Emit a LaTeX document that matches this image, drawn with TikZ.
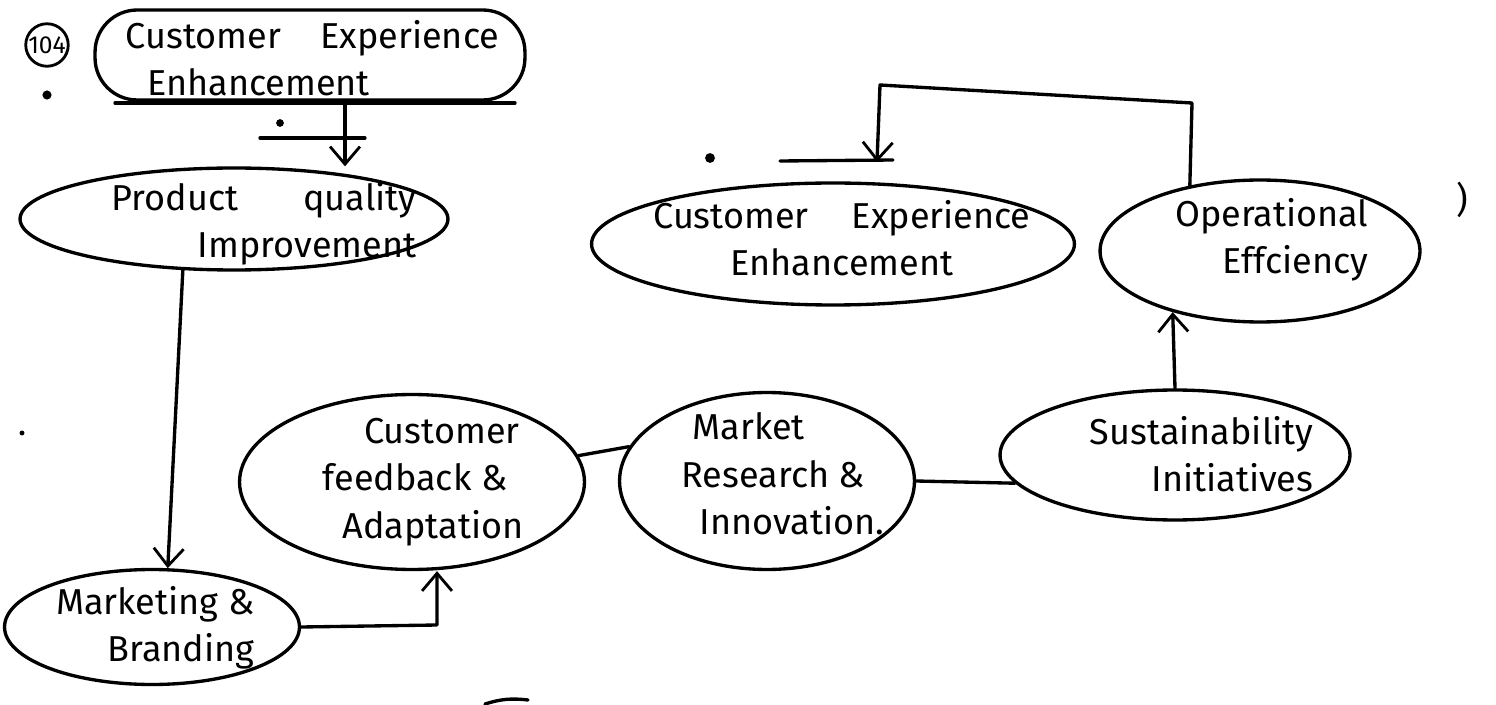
\documentclass[tikz,border=0pt]{standalone}
\usepackage{fontspec}
\setmainfont{Fira Sans}
\usetikzlibrary{shapes.geometric,arrows.meta,calc}
\begin{document}
\begin{tikzpicture}[x=0.02cm,y=-0.02cm,line width=1.9pt,line cap=round,line join=round,
  bub/.style={draw,ellipse,inner sep=0pt},
  lbl/.style={font=\fontsize{20.5}{27}\selectfont,inner sep=0pt},
  arr/.style={-{Straight Barb[length=10pt,width=17pt,line width=1.6pt]}}]
\useasboundingbox (0,0) rectangle (1496,705);
% number circle
\node[draw,circle,minimum size=0.85cm,inner sep=0pt,line width=1.6pt,font=\fontsize{14}{14}\selectfont] (num) at (47,45) {104};
% top box
\node[draw,rounded corners=24pt,minimum width=8.6cm,minimum height=1.8cm] (top) at (310,55) {};
\node[lbl,align=left,anchor=west] (toptxt) at (124,58) {Customer\hspace{1.1em}Experience\\\hspace{0.6em}Enhancement};
\coordinate (ul1) at (115,103);
\coordinate (ul2) at (515,103);
\draw (ul1) -- (ul2);
% bubbles
\node[bub,minimum width=8.56cm,minimum height=2.04cm] (pq) at (234,219) {};
\node[lbl,align=right,anchor=east] (pqtxt) at (418,224) {Product\hspace{1.8em}quality\\Improvement};
\node[bub,minimum width=5.9cm,minimum height=2.3cm] (mb) at (152,627) {};
\node[lbl,align=right,anchor=east] (mbtxt) at (256,628) {Marketing \&\\Branding};
\node[bub,minimum width=6.9cm,minimum height=3.5cm] (cf) at (412,482) {};
\node[lbl,align=center] (cftxt) at (415,482) {\hspace{1.5em}Customer\\feedback \&\\\hspace{1em}Adaptation};
\node[bub,minimum width=5.9cm,minimum height=3.54cm] (mr) at (767,481) {};
\node[lbl,align=left,anchor=west] (mrtxt) at (680,474) {\hspace{0.3em}Market\\Research \&\\\hspace{0.5em}Innovation.};
\node[bub,minimum width=7cm,minimum height=2.6cm] (si) at (1175,455) {};
\node[lbl,align=right,anchor=east] (sitxt) at (1315,454) {Sustainability\\Initiatives};
\node[bub,minimum width=6.4cm,minimum height=2.84cm] (oe) at (1260,251) {};
\node[lbl,align=right,anchor=east] (oetxt) at (1370,240) {Operational\\Effciency};
\node[bub,minimum width=9.66cm,minimum height=2.44cm] (ce) at (833,244) {};
\node[lbl,align=center] (cetxt) at (842,238) {Customer\hspace{1.2em}Experience\\Enhancement};
% connectors
\coordinate (a1) at (345,103);
\coordinate (t1) at (260,138);
\coordinate (t2) at (365,138);
\draw (t1) -- (t2);
\draw[arr] (a1) -- (a1 |- pq.north);
\draw[arr] (pq.225) -- (mb.75);
\coordinate (jn) at (437,625);
\draw[arr] (mb.east) -- (jn) -- (jn |- cf.south);
\draw (cf.9) -- (mr.166);
\draw (mr.east) -- (si.190);
\draw[arr] (si.north) -- (oe.215);
\coordinate (c1) at (1192,103);
\coordinate (c2) at (880,85);
\coordinate (c3) at (877,162);
\coordinate (t3) at (780,161);
\coordinate (t4) at (893,160);
\draw (t3) -- (t4);
\draw[arr] (oe.137) -- (c1) -- (c2) -- (c3);
% stray marks
\fill (47,95) circle (2.6pt);
\fill (280,123) circle (2.2pt);
\fill (710,158) circle (2.8pt);
\fill (22,433) circle (1.4pt);
\node[lbl] (paren) at (1462,200) {)};
\draw (485,704) to[bend left=12] (528,700);
\end{tikzpicture}
\end{document}
